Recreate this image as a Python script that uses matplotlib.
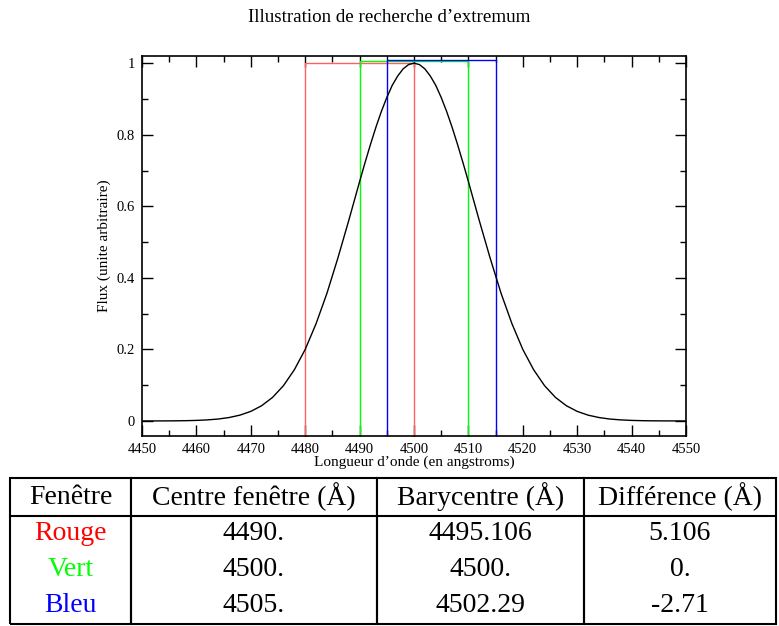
import matplotlib
matplotlib.use("Agg")
import matplotlib.pyplot as plt
from matplotlib.ticker import MultipleLocator, FormatStrFormatter

plt.rcParams['font.family'] = 'serif'
plt.rcParams['font.serif'] = ['Liberation Serif', 'DejaVu Serif']

# gaussian profile
wavelength = [4450, 4452, 4454, 4456, 4458, 4460, 4462, 4464, 4466, 4468,
              4470, 4472, 4474, 4476, 4478, 4480, 4482, 4484, 4486, 4488,
              4490, 4491, 4492, 4493, 4494, 4495, 4496, 4497, 4498, 4499,
              4500, 4501, 4502, 4503, 4504, 4505, 4506, 4507, 4508, 4509,
              4510, 4512, 4514, 4516, 4518, 4520, 4522, 4524, 4526, 4528,
              4530, 4532, 4534, 4536, 4538, 4540, 4542, 4544, 4546, 4548, 4550]
flux = [0.0000, 0.0001, 0.0002, 0.0004, 0.0008, 0.0016, 0.0030, 0.0054, 0.0096, 0.0163,
        0.0268, 0.0427, 0.0659, 0.0986, 0.143, 0.200, 0.272, 0.357, 0.455, 0.560,
        0.669, 0.722, 0.773, 0.821, 0.865, 0.904, 0.938, 0.964, 0.984, 0.996,
        1.000, 0.996, 0.984, 0.964, 0.938, 0.904, 0.865, 0.821, 0.773, 0.722,
        0.669, 0.560, 0.455, 0.357, 0.272, 0.200, 0.143, 0.0986, 0.0659, 0.0427,
        0.0268, 0.0163, 0.0096, 0.0054, 0.0030, 0.0016, 0.0008, 0.0004, 0.0002, 0.0001, 0.0000]

# search windows
window_names = ['Rouge', 'Vert', 'Bleu']
window_left = [4480, 4490, 4495]
window_right = [4500, 4510, 4515]
window_top = [1.0, 1.005, 1.01]
window_colors = ['#ff6060', '#00ff00', '#0000ff']

# table contents
col_labels = ['Fenêtre', 'Centre fenêtre (Å)', 'Barycentre (Å)', 'Différence (Å)']
centres = ['4490.', '4500.', '4505.']
barycentres = ['4495.106', '4500.', '4502.29']
differences = ['5.106', '0.', '-2.71']
name_colors = ['#ff0000', '#00ff00', '#0000ff']


def main():
    fig = plt.figure(figsize=(7.79, 6.26), dpi=100)
    ax = fig.add_axes([142 / 779, 1 - 436 / 626, 544 / 779, 380 / 626])

    ybot = -0.042
    for left, right, top, col in zip(window_left, window_right, window_top, window_colors):
        ax.plot([left, left, right, right], [ybot, top, top, ybot], color=col, lw=1.0)

    ax.plot(wavelength, flux, color='black', lw=1.0)

    ax.set_xlim(4450, 4550)
    ax.set_ylim(ybot, 1.02)
    ax.xaxis.set_major_locator(MultipleLocator(10))
    ax.xaxis.set_minor_locator(MultipleLocator(5))
    ax.yaxis.set_major_locator(MultipleLocator(0.2))
    ax.yaxis.set_minor_locator(MultipleLocator(0.1))
    ax.yaxis.set_major_formatter(FormatStrFormatter('%g'))
    ax.tick_params(which='both', direction='in', top=True, right=True, width=1.0)
    ax.tick_params(which='major', length=8, labelsize=10.5, pad=5)
    ax.tick_params(which='minor', length=4)
    for sp in ax.spines.values():
        sp.set_linewidth(1.2)

    ax.set_xlabel('Longueur d’onde (en angstroms)', fontsize=11, labelpad=0)
    ax.set_ylabel('Flux (unite arbitraire)', fontsize=11, labelpad=4)
    fig.text(0.5, 1 - 18 / 626, 'Illustration de recherche d’extremum',
             ha='center', va='center', fontsize=13.7)

    # table below the plot
    ax_t = fig.add_axes([10 / 779, 2 / 626, 766 / 779, 146 / 626])
    ax_t.axis('off')
    cell_text = [[n, c, b, d] for n, c, b, d in zip(window_names, centres, barycentres, differences)]
    tbl = ax_t.table(cellText=cell_text, colLabels=col_labels, cellLoc='center',
                     colWidths=[121, 246, 207, 192], bbox=[0, 0, 1, 1])
    tbl.auto_set_font_size(False)
    tbl.set_fontsize(20)
    for (r, c), cell in tbl.get_celld().items():
        cell.set_linewidth(1.5)
        cell.PAD = 0.02
        if r == 0:
            cell.visible_edges = 'closed'
            cell.set_height(38)
        else:
            cell.set_height(36)
            cell.visible_edges = 'BLR' if r == 3 else 'LR'
            if c == 0:
                cell.get_text().set_color(name_colors[r - 1])

    fig.savefig('out.png', dpi=100)


if __name__ == "__main__":
    main()
